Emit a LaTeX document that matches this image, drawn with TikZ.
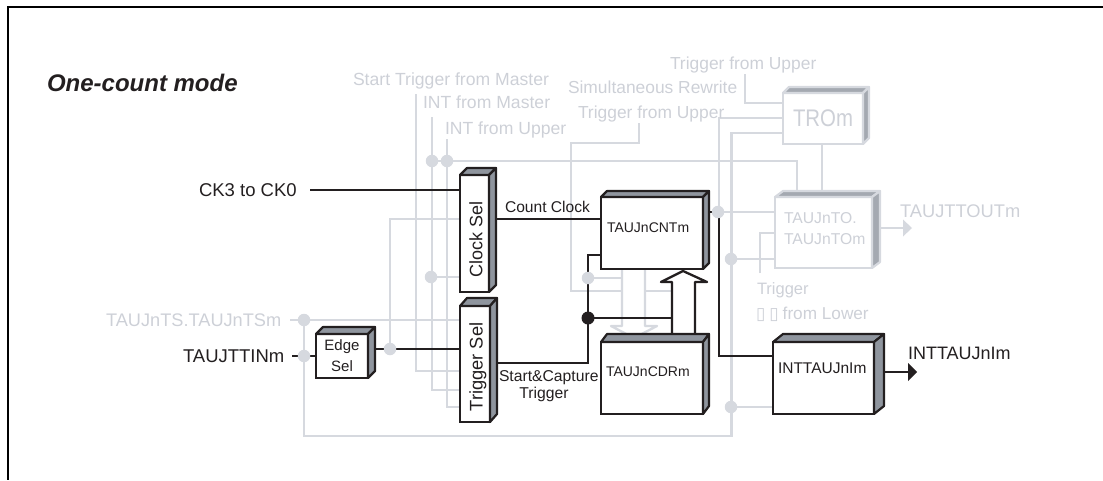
\documentclass[tikz,border=0pt]{standalone}
\usepackage{fontspec}
\setmainfont{Liberation Sans}
\newfontfamily\symfont{DejaVu Sans}
\usetikzlibrary{backgrounds,calc}
\definecolor{ink}{HTML}{231F20}
\definecolor{pale}{HTML}{D6D9DF}
\definecolor{paletxt}{HTML}{CDD0D7}
\definecolor{sidegrey}{HTML}{8F959E}
\definecolor{palegrey}{HTML}{A4A9B1}
\newcommand{\fs}[1]{\fontsize{#1}{#1}\selectfont}
\tikzset{
  txt/.style={inner sep=0,outer sep=0,text depth=0pt,text=ink,anchor=west,font=\fs{#1},text height=#1*0.716pt},
  ptxt/.style={txt=#1,text=paletxt},
  solid3d/.style={draw=ink,fill=white,line width=2.8pt,inner sep=0,outer sep=0,anchor=north west},
  pale3d/.style={draw=pale,fill=white,line width=2.4pt,inner sep=0,outer sep=0,anchor=north west},
  blk/.style={draw=ink,line width=2.3pt,line join=miter},
  gry/.style={draw=pale,line width=2.3pt,line join=miter},
  gdot/.style={circle,fill=pale,inner sep=0,outer sep=0,minimum size=12.5pt},
  bdot/.style={circle,fill=ink,inner sep=0,outer sep=0,minimum size=13pt}
}
\newcommand{\solidbox}[7]{%
  \node[solid3d,minimum width=#4pt,minimum height=#5pt] (#1) at (#2,#3) {};
  \fill[sidegrey,draw=ink,line width=2.2pt,line join=round]
    (#1.north west) -- ++(#6,-#7) -- ($(#1.north east)+(#6,-#7)$) -- (#1.north east) -- cycle;
  \fill[sidegrey,draw=ink,line width=2.2pt,line join=round]
    (#1.north east) -- ($(#1.north east)+(#6,-#7)$) -- ($(#1.south east)+(#6,-#7)$) -- (#1.south east) -- cycle;
  \node[solid3d,fill=none,minimum width=#4pt,minimum height=#5pt] at (#2,#3) {};
}
\newcommand{\palebox}[7]{%
  \node[pale3d,minimum width=#4pt,minimum height=#5pt] (#1) at (#2,#3) {};
  \fill[palegrey,draw=pale,line width=2.2pt,line join=round]
    (#1.north west) -- ++(#6,-#7) -- ($(#1.north east)+(#6,-#7)$) -- (#1.north east) -- cycle;
  \fill[palegrey,draw=pale,line width=2.2pt,line join=round]
    (#1.north east) -- ($(#1.north east)+(#6,-#7)$) -- ($(#1.south east)+(#6,-#7)$) -- (#1.south east) -- cycle;
  \node[pale3d,fill=none,minimum width=#4pt,minimum height=#5pt] at (#2,#3) {};
}
\begin{document}
\begin{tikzpicture}[x=1pt,y=-1pt]
\useasboundingbox (0,0) rectangle (1103,480);
\coordinate (frameTR) at (1103,6.5);
\coordinate (frameTL) at (7.5,6.5);
\coordinate (frameBL) at (7.5,480);
\draw[line width=2pt,draw=black,line join=miter] (frameTR) -- (frameTL) -- (frameBL);

% ---- boxes
\solidbox{clksel}{460}{175}{29}{117}{7}{7}
\solidbox{trgsel}{460}{306}{30}{116}{7}{8}
\solidbox{edgesel}{316}{334}{52}{44}{7}{7}
\solidbox{cnt}{601}{197}{102}{72}{6}{6}
\solidbox{cdr}{601}{342}{102}{72}{6}{8}
\solidbox{intb}{773}{342}{101}{72}{10}{8}
\palebox{tro}{783}{93}{80}{51}{6}{6}
\palebox{tauto}{775}{197}{97}{71}{8}{6}

% ---- texts
\node[txt=24,font=\fs{24}\bfseries\itshape] (title) at (47,83) {One-count mode};
\node[txt=18.5] (ck) at (199,190) {CK3 to CK0};
\node[txt=18.5] (tin) at (183,356) {TAUJTTINm};
\node[ptxt=18.2] (ts) at (106,320) {TAUJnTS.TAUJnTSm};
\node[txt=15.6] (cc) at (505,207) {Count Clock};
\node[txt=15,anchor=center] (edge1) at (342,345) {Edge};
\node[txt=15,anchor=center] (edge2) at (342,366) {Sel};
\node[txt=18,anchor=center,rotate=90] (clktxt) at (476,239) {Clock Sel};
\node[txt=18.3,anchor=center,rotate=90] (trgtxt) at (476,367) {Trigger Sel};
\node[txt=15.7] (sc1) at (499,376) {Start\&Capture};
\node[txt=15.7,anchor=center] (sc2) at (544,393) {Trigger};
\node[txt=14] (cnttxt) at (607,227) {TAUJnCNTm};
\node[txt=14] (cdrtxt) at (606,371) {TAUJnCDRm};
\node[txt=15.5] (inttxt) at (778,368) {INTTAUJnIm};
\node[txt=18] (intout) at (908,353) {INTTAUJnIm};
\node[ptxt=17.6] (t1) at (353,79) {Start Trigger from Master};
\node[ptxt=17.6] (t2) at (423,102) {INT from Master};
\node[ptxt=17.6] (t3) at (445,128) {INT from Upper};
\node[ptxt=17.4] (t4) at (568,87) {Simultaneous Rewrite};
\node[ptxt=17.4] (t5) at (578,112) {Trigger from Upper};
\node[ptxt=17.4] (t6) at (670,63) {Trigger from Upper};
\node[ptxt=24] (trotxt) at (793,118) {\scalebox{.85}[1]{TROm}};
\node[ptxt=15.7] (to1) at (784,218) {TAUJnTO.};
\node[ptxt=15.7] (to2) at (784,239) {TAUJnTOm};
\node[ptxt=18.3] (toout) at (900,211) {TAUJTTOUTm};
\node[ptxt=16.5] (trg1) at (757,289) {Trigger};
\node[ptxt=17.2] (trg2) at (756,313) {{\symfont\fs{17}▯\hspace{4pt}▯}\hspace{4pt}from Lower};

% ---- junctions
\node[gdot] (j1) at (432,161) {};
\node[gdot] (j2) at (447,161) {};
\node[gdot] (j3) at (431,277) {};
\node[gdot] (j4) at (304,320) {};
\node[gdot] (j5) at (304,356) {};
\node[gdot] (j6) at (390,349) {};
\node[gdot] (j7) at (588,278) {};
\node[gdot] (j8) at (718,212) {};
\node[gdot] (j9) at (731,259) {};
\node[gdot] (j10) at (731,407) {};

\coordinate (s1) at (416,94);
\coordinate (s2) at (432,117);
\coordinate (s3) at (447,139);
\coordinate (s4) at (745,74);
\coordinate (s5) at (639,123);
\coordinate (s6) at (760,273);
\coordinate (s7) at (290,320);
\coordinate (s8) at (310,190);
\coordinate (s9) at (292,356);

\begin{scope}[on background layer]
  % pale connectors
  \draw[gry] (s1) |- (trgsel.west |- 0,371);
  \draw[gry] (s2) |- (trgsel.west |- 0,390);
  \draw[gry] (s3) |- (trgsel.west |- 0,407);
  \draw[gry] (j1.center) -- (797,161) -- (tauto.north west -| 797,0);
  \draw[gry] (j3.center) -- (clksel.west |- j3);
  \draw[gry] (j6.center) |- (clksel.west |- 0,219);
  \draw[gry] (s7) -- (j4.center) -- (trgsel.west |- j4);
  \draw[gry] (j4.center) |- (731.5,436) -- (731.5,133) -- (tro.west |- 0,133);
  \draw[gry] (j9.center) -- (tauto.west |- j9);
  \draw[gry] (j10.center) -- (intb.west |- j10);
  \draw[gry] (j8.center) -- (719,212) -- (719,118) -- (tro.west |- 0,118);
  \draw[gry] (cnt.east |- j8) -- (tauto.west |- j8);
  \draw[gry] (s4) |- (tro.west |- 0,103);
  \draw[gry] (tro.south -| 822,0) -- (tauto.north -| 822,0);
  \draw[gry] (s5) |- (571,143) -- (571,291) -- (622,291);
  \draw[gry] (645,291) -- (672,291);
  \draw[gry] (j7.center) -- (622,278);
  \draw[gry] (s6) |- (tauto.west |- 0,233);
  \draw[gry] (tauto.east |- 0,228) ++(8,0) -- (904,228);
  \fill[pale] (903,219.5) -- (912,228) -- (903,236.5) -- cycle;
  % pale hollow arrow CNT -> CDR
  \draw[gry,fill=white,line join=round] (622,269) -- (622,326) -- (611,326) -- (634,338) -- (657,326) -- (645,326) -- (645,269);
  % solid connectors
  \draw[blk] (s8) -- (clksel.west |- s8);
  \draw[blk] (clksel.east |- 0,219) -- (cnt.west |- 0,219);
  \draw[blk] (edgesel.east |- 0,349) -- (trgsel.west |- 0,349);
  \draw[blk] (s9) -- (edgesel.west |- s9);
  \coordinate (jbc) at (588,318);
  \draw[blk] (trgsel.east |- 0,363) -| (jbc) -- (588,255) -- (cnt.west |- 0,255);
  \draw[blk] (jbc) -- (672,318);
  \draw[blk] (cnt.east |- 0,212) -- (719,212) |- (intb.west |- 0,356);
  \draw[blk] (intb.east |- 0,372) ++(10,0) -- (909,372);
  \fill[ink] (908,363) -- (917,372) -- (908,381) -- cycle;
  % solid hollow arrow CDR -> CNT
  \draw[blk,fill=white,line join=round] (672,334) -- (672,282) -- (661,282) -- (683,271) -- (707,282) -- (695,282) -- (695,334);
  \node[bdot] (jb) at (jbc) {};
\end{scope}
\end{tikzpicture}
\end{document}
